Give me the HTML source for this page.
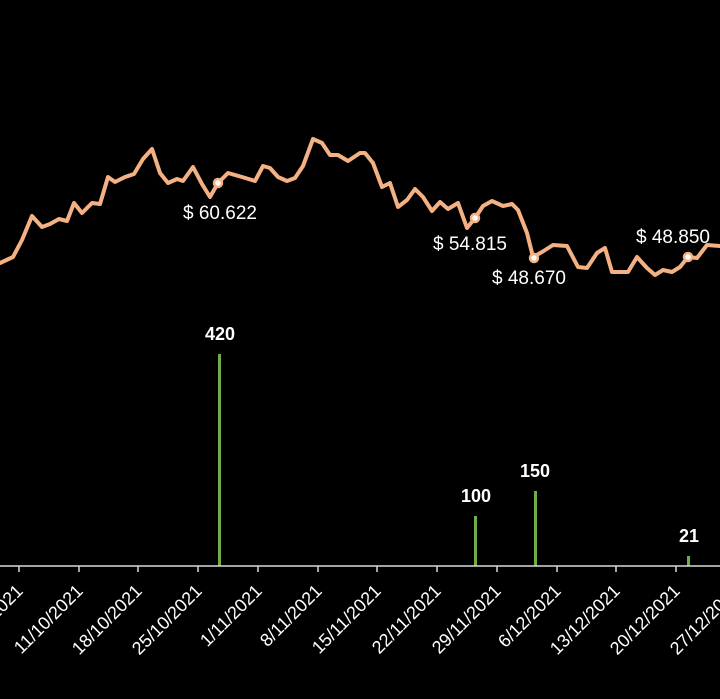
<!DOCTYPE html>
<html><head><meta charset="utf-8"><style>
html,body{margin:0;padding:0;background:#000;}
svg{display:block;}
text{font-family:"Liberation Sans",sans-serif;fill:#fff;}
</style></head><body>
<svg width="720" height="699" viewBox="0 0 720 699">
<rect width="720" height="699" fill="#000"/>
<polyline fill="none" stroke="#F4B183" stroke-width="4" stroke-linejoin="round" stroke-linecap="round" points="0,263 13,257 22,240 32,216 42,227 50,224 59,219 67,221 74,203 82,213 92,203 100,204 108,177 115,182 125,177 134,174 143,159 152,149 160,173 168,183 177,179 183,181 193,167 202,184 210,197 218,183 228,173 242,177 255,181 263,166 270,168 278,177 287,181 295,178 303,166 313,139 322,143 330,155 338,155 348,161 360,153 365,153 373,163 382,187 390,183 398,207 407,200 415,189 423,197 432,211 440,202 448,209 458,203 467,228 475,218 483,206 492,201 503,206 512,204 518,210 527,233 533,257 542,252 553,245 567,246 578,267 587,268 597,253 605,248 612,272 628,272 637,257 647,268 655,275 663,270 672,272 680,267 688,257 697,258 707,245 720,246"/>
<g fill="#fff" stroke="#F4B183" stroke-width="2.5">
<circle cx="218" cy="183" r="4"/><circle cx="475" cy="218" r="4"/><circle cx="534" cy="258" r="4"/><circle cx="688" cy="257" r="4"/>
</g>
<g font-size="19" text-anchor="middle">
<text x="220" y="219">$ 60.622</text>
<text x="470" y="250">$ 54.815</text>
<text x="529" y="284">$ 48.670</text>
<text x="673" y="243">$ 48.850</text>
</g>
<g fill="#70AD47">
<rect x="218" y="354" width="3" height="212"/>
<rect x="474" y="516" width="3" height="50"/>
<rect x="534" y="491" width="3" height="75"/>
<rect x="687" y="556" width="3" height="10"/>
</g>
<g font-size="18" font-weight="bold" text-anchor="middle">
<text x="220" y="340">420</text>
<text x="476" y="502">100</text>
<text x="535" y="477">150</text>
<text x="689" y="542">21</text>
</g>
<line x1="0" y1="566" x2="720" y2="566" stroke="#d9d9d9" stroke-width="1.5"/>
<g stroke="#d9d9d9" stroke-width="1.5">
<line x1="19" y1="566" x2="19" y2="572"/><line x1="79" y1="566" x2="79" y2="572"/><line x1="138" y1="566" x2="138" y2="572"/><line x1="198" y1="566" x2="198" y2="572"/><line x1="258" y1="566" x2="258" y2="572"/><line x1="318" y1="566" x2="318" y2="572"/><line x1="377" y1="566" x2="377" y2="572"/><line x1="437" y1="566" x2="437" y2="572"/><line x1="497" y1="566" x2="497" y2="572"/><line x1="557" y1="566" x2="557" y2="572"/><line x1="616" y1="566" x2="616" y2="572"/><line x1="676" y1="566" x2="676" y2="572"/>
</g>
<g font-size="18" text-anchor="end">
<text transform="translate(24,592) rotate(-45)">4/10/2021</text>
<text transform="translate(84,592) rotate(-45)">11/10/2021</text>
<text transform="translate(143,592) rotate(-45)">18/10/2021</text>
<text transform="translate(203,592) rotate(-45)">25/10/2021</text>
<text transform="translate(263,592) rotate(-45)">1/11/2021</text>
<text transform="translate(323,592) rotate(-45)">8/11/2021</text>
<text transform="translate(382,592) rotate(-45)">15/11/2021</text>
<text transform="translate(442,592) rotate(-45)">22/11/2021</text>
<text transform="translate(502,592) rotate(-45)">29/11/2021</text>
<text transform="translate(562,592) rotate(-45)">6/12/2021</text>
<text transform="translate(621,592) rotate(-45)">13/12/2021</text>
<text transform="translate(681,592) rotate(-45)">20/12/2021</text>
<text transform="translate(741,592) rotate(-45)">27/12/2021</text>
</g>
</svg>
</body></html>
